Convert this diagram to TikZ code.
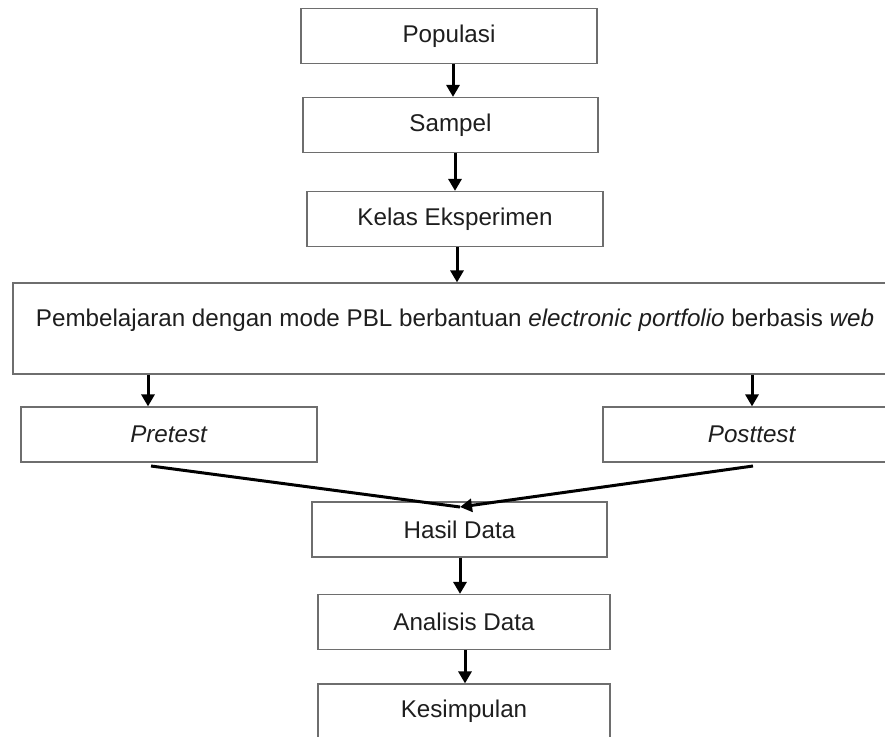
\documentclass[tikz,border=0pt]{standalone}
\usepackage{fontspec}
\setmainfont{Liberation Sans}
\usetikzlibrary{arrows.meta}
\definecolor{boxgray}{HTML}{6E6E6E}
\definecolor{txt}{HTML}{1E1E1E}
\begin{document}
\begin{tikzpicture}[x=1pt,y=-1pt,
  box/.style={draw=boxgray,line width=1.2pt,rectangle,inner sep=0pt,
    minimum height=55pt,font=\fontsize{24.2}{29}\selectfont,text=txt},
  arr/.style={line width=3pt,-{Triangle[length=12pt,width=13pt]}}]
\useasboundingbox (0,0) rectangle (885,736);
\node[box,minimum width=296pt] (pop) at (449,36) {Populasi};
\node[box,minimum width=295pt] (sam) at (450.5,125) {Sampel};
\node[box,minimum width=296pt] (kel) at (455,219) {Kelas Eksperimen};
\node[box,minimum width=880pt,minimum height=91pt] (pbl) at (453,328.5) {};
\node[font=\fontsize{24.2}{29}\selectfont,text=txt,inner sep=0pt] (pbltext) at (455,320)
  {Pembelajaran dengan mode PBL berbantuan \textit{electronic portfolio} berbasis \textit{web}};
\node[box,minimum width=296pt] (pre) at (169,434.5) {\textit{Pretest}};
\node[box,minimum width=298pt] (post) at (752,434.5) {\textit{Posttest}};
\node[box,minimum width=295pt] (has) at (459.5,529.5) {Hasil Data};
\node[box,minimum width=292pt] (ana) at (464,622) {Analisis Data};
\node[box,minimum width=292pt] (kes) at (464,711.5) {Kesimpulan};
\coordinate (preout) at (151,466);
\coordinate (postout) at (753,466);
\coordinate (hasin) at (460,507);
\draw[arr] (pop.south -| 453,0) -- (sam.north -| 453,0);
\draw[arr] (sam.south -| 455,0) -- (kel.north -| 455,0);
\draw[arr] (kel.south -| 457,0) -- (pbl.north -| 457,0);
\draw[arr] (pbl.south -| 148,0) -- (pre.north -| 148,0);
\draw[arr] (pbl.south -| 752,0) -- (post.north -| 752,0);
\draw[line width=3pt] (preout) -- (hasin);
\draw[arr] (postout) -- (hasin);
\draw[arr] (has.south -| 460,0) -- (ana.north -| 460,0);
\draw[arr] (ana.south -| 465,0) -- (kes.north -| 465,0);
\end{tikzpicture}
\end{document}
